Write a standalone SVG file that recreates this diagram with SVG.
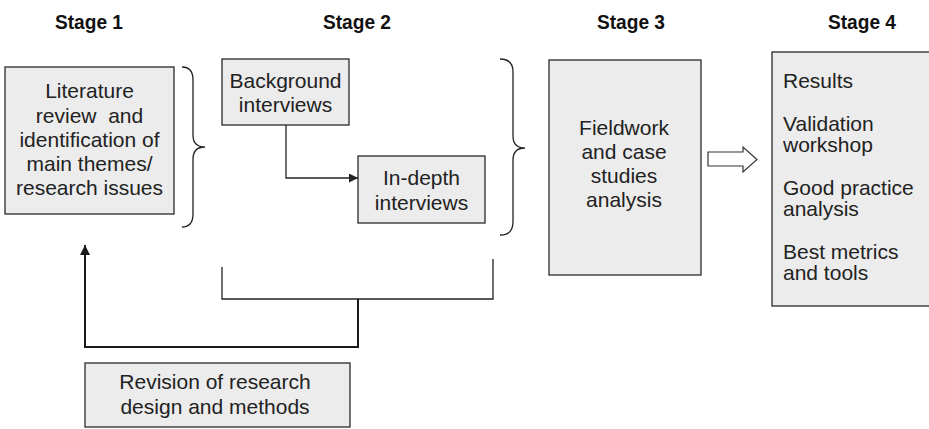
<svg xmlns="http://www.w3.org/2000/svg" width="929" height="429" viewBox="0 0 929 429">
  <style>
    .box { fill: #ececec; stroke: #2a2a2a; stroke-width: 1.3; }
    .txt { font-family: "Liberation Sans", Arial, sans-serif; font-size: 21px; fill: #222; }
    .mid { text-anchor: middle; }
    .head { font-family: "Liberation Sans", Arial, sans-serif; font-weight: bold; font-size: 20px; fill: #111; text-anchor: middle; }
    .line { fill: none; stroke: #222; stroke-width: 1.3; }
    .thick { fill: none; stroke: #1a1a1a; stroke-width: 2; }
  </style>
  <defs>
    <marker id="tip" viewBox="0 0 10 10" refX="10" refY="5" markerWidth="9" markerHeight="9" markerUnits="userSpaceOnUse" orient="auto">
      <path d="M0,0 L10,5 L0,10 Z" fill="#222"/>
    </marker>
    <marker id="tipBig" viewBox="0 0 10 10" refX="10" refY="5" markerWidth="10" markerHeight="10" markerUnits="userSpaceOnUse" orient="auto">
      <path d="M0,0 L10,5 L0,10 Z" fill="#1a1a1a"/>
    </marker>
  </defs>

  <!-- stage headings -->
  <g id="headings">
    <text class="head" x="89" y="29" textLength="68" lengthAdjust="spacingAndGlyphs">Stage 1</text>
    <text class="head" x="357" y="29" textLength="68" lengthAdjust="spacingAndGlyphs">Stage 2</text>
    <text class="head" x="631" y="29" textLength="68" lengthAdjust="spacingAndGlyphs">Stage 3</text>
    <text class="head" x="862" y="29" textLength="68" lengthAdjust="spacingAndGlyphs">Stage 4</text>
  </g>

  <!-- stage 1 -->
  <g id="literature">
    <rect class="box" x="5" y="67" width="169" height="147"/>
    <text class="txt mid" x="89.5" y="98">Literature</text>
    <text class="txt mid" x="89.5" y="122.5" xml:space="preserve">review  and</text>
    <text class="txt mid" x="89.5" y="147">identification of</text>
    <text class="txt mid" x="89.5" y="171">main themes/</text>
    <text class="txt mid" x="89.5" y="195">research issues</text>
  </g>

  <!-- stage 2 -->
  <g id="background">
    <rect class="box" x="222" y="59" width="127" height="66"/>
    <text class="txt mid" x="285.5" y="88">Background</text>
    <text class="txt mid" x="285.5" y="112">interviews</text>
  </g>
  <g id="indepth">
    <rect class="box" x="358" y="156" width="127" height="67"/>
    <text class="txt mid" x="421.5" y="185">In-depth</text>
    <text class="txt mid" x="421.5" y="210">interviews</text>
  </g>

  <!-- stage 3 -->
  <g id="fieldwork">
    <rect class="box" x="549" y="60" width="152" height="215"/>
    <text class="txt mid" x="624" y="135">Fieldwork</text>
    <text class="txt mid" x="624" y="159">and case</text>
    <text class="txt mid" x="624" y="183">studies</text>
    <text class="txt mid" x="624" y="207">analysis</text>
  </g>

  <!-- stage 4 -->
  <g id="results">
    <rect class="box" x="772" y="52" width="170" height="254"/>
    <text class="txt" x="783" y="88">Results</text>
    <text class="txt" x="783" y="131">Validation</text>
    <text class="txt" x="783" y="152">workshop</text>
    <text class="txt" x="783" y="195">Good practice</text>
    <text class="txt" x="783" y="216">analysis</text>
    <text class="txt" x="783" y="259">Best metrics</text>
    <text class="txt" x="783" y="280">and tools</text>
  </g>

  <!-- revision -->
  <g id="revision">
    <rect class="box" x="85" y="363" width="265" height="64"/>
    <text class="txt mid" x="215" y="389">Revision of research</text>
    <text class="txt mid" x="215" y="414">design and methods</text>
  </g>

  <!-- connectors -->
  <g id="connectors">
    <!-- curly braces grouping stages 1 and 2 -->
    <path class="line" d="M182,67 Q193,67 193,80 V135 Q193,147 205,147 Q193,147 193,159 V214 Q193,227 182,227"/>
    <path class="line" d="M500,59 Q513,59 513,72 V136 Q513,148 525,148 Q513,148 513,160 V222 Q513,235 500,235"/>
    <!-- background to in-depth -->
    <path class="line" d="M286,125 V178 H358" marker-end="url(#tip)"/>
    <!-- bracket under stage 2 -->
    <path class="line" d="M222,267 V299 H493 V259"/>
    <!-- feedback loop to stage 1 -->
    <path class="thick" d="M358,299 V347 H85 V245" marker-end="url(#tipBig)"/>
    <!-- hollow arrow to stage 4 -->
    <polygon points="708,152 743,152 743,147 757,159.5 743,172 743,166 708,166" fill="#fff" stroke="#333" stroke-width="1.2"/>
  </g>
</svg>
